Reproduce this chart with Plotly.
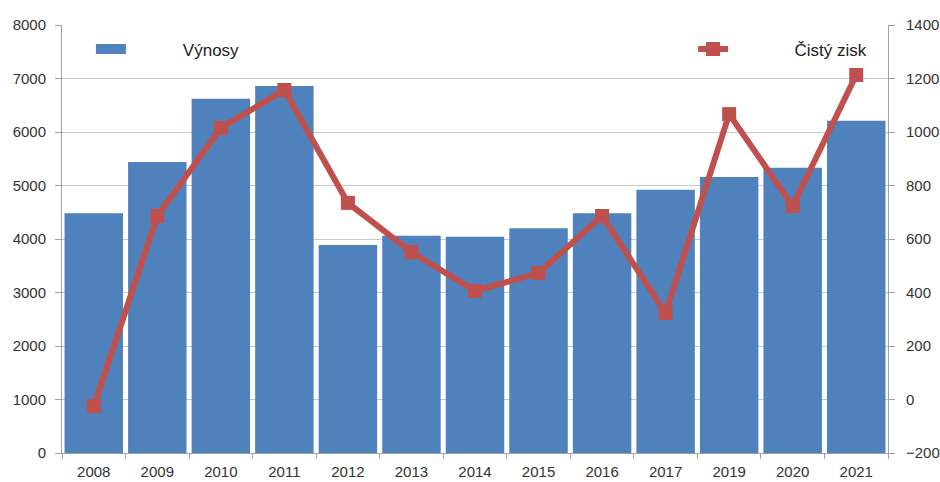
import plotly.graph_objects as go

years = ["2008", "2009", "2010", "2011", "2012", "2013", "2014", "2015", "2016", "2017", "2019", "2020", "2021"]
vynosy = [4480, 5440, 6620, 6860, 3890, 4060, 4040, 4200, 4480, 4920, 5160, 5330, 6210]
cisty_zisk = [-25, 686, 1015, 1157, 735, 551, 406, 473, 686, 323, 1067, 723, 1213]
grid_vals = [1000, 2000, 3000, 4000, 5000, 6000, 7000]

BLUE = "#4F81BD"
RED = "#C0504D"
TXT = "#333333"

fig = go.Figure()
fig.add_trace(go.Bar(
    x=years, y=vynosy, name="Výnosy",
    marker=dict(color=BLUE, line=dict(width=0)),
    showlegend=False,
))
# legend-only entry for the bars (wide blue swatch); also carries the grid axis
fig.add_trace(go.Scatter(
    x=[years[0]], y=[None], name="\u00a0" * 11 + "Výnosy", mode="lines",
    line=dict(color=BLUE, width=16), legend="legend", showlegend=True, yaxis="y3",
))
fig.add_trace(go.Scatter(
    x=years, y=cisty_zisk, name="\u00a0" * 13 + "Čistý zisk", yaxis="y2",
    mode="lines+markers",
    line=dict(color=RED, width=6),
    marker=dict(symbol="square", size=14, color=RED),
    legend="legend2",
))

fig.update_layout(
    width=940, height=482,
    margin=dict(l=62, r=52, t=25, b=29),
    plot_bgcolor="white", paper_bgcolor="white",
    font=dict(family="Liberation Sans, Arial, sans-serif", size=13, color=TXT),
    bargap=0.08,
    showlegend=True,
    legend=dict(x=0.035, y=0.985, xanchor="left", yanchor="top", bgcolor="rgba(0,0,0,0)",
                font=dict(size=17, color="#222222")),
    legend2=dict(x=0.764, y=0.985, xanchor="left", yanchor="top", bgcolor="rgba(0,0,0,0)",
                 font=dict(size=17, color="#222222")),
    xaxis=dict(
        type="category", range=[-0.5, len(years) - 0.5], automargin=False,
        showline=True, linecolor="#A0A0A0", linewidth=1,
        ticks="outside", ticklen=5, tickcolor="#A0A0A0", tickson="boundaries",
        showgrid=False, ticklabelstandoff=5,
        tickfont=dict(family="Liberation Sans Narrow, Liberation Sans, sans-serif", size=15, color=TXT),
    ),
    yaxis=dict(
        range=[0, 8000], dtick=1000, showline=True, linecolor="#A0A0A0", automargin=False,
        ticks="outside", ticklen=6, tickcolor="#A0A0A0", ticklabelstandoff=6,
        showgrid=False, zeroline=False, tickfont=dict(size=15, color=TXT),
    ),
    yaxis2=dict(
        range=[-200, 1400], dtick=200, overlaying="y", side="right", automargin=False,
        showline=True, linecolor="#A0A0A0", ticklabelstandoff=8,
        ticks="outside", ticklen=6, tickcolor="#A0A0A0",
        showgrid=False, zeroline=False, tickfont=dict(size=15, color=TXT),
    ),
    yaxis3=dict(
        range=[0, 8000], overlaying="y", tickmode="array", tickvals=grid_vals,
        showticklabels=False, showgrid=True, gridcolor="#C8C8C8", gridwidth=1,
        zeroline=False, showline=False, automargin=False,
    ),
)

fig.write_html("out.html")
